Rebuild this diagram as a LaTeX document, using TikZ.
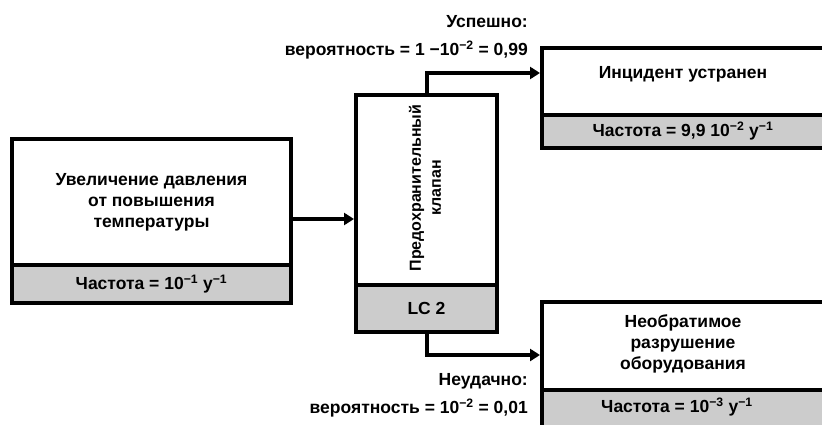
\documentclass[tikz,border=0pt]{standalone}
\usepackage{fontspec}
\setmainfont{Liberation Sans}
\usetikzlibrary{arrows.meta}
\begin{document}
\begin{tikzpicture}[x=1pt,y=-1pt,
  font=\bfseries\fontsize{17.5}{21}\selectfont,
  frame/.style={draw, line width=4.5pt, inner sep=0pt, outer sep=0pt, anchor=north west, align=center},
  band/.style={frame, fill=black!20},
  txt/.style={inner sep=1pt, align=center},
  arr/.style={line width=4pt, shorten >=2pt, -{Triangle[length=10pt,width=12pt]}}]
\useasboundingbox (0,0) rectangle (822,425);
\fill[white] (0,0) rectangle (822,425);
% initiating event
\node[frame, minimum width=279pt, minimum height=126pt] (init) at (12,139) {Увеличение давления\\от повышения\\температуры};
\node[band, minimum width=279pt, minimum height=38pt] (initf) at (12,265) {Частота = 10\textsuperscript{−1} y\textsuperscript{−1}};
% relief valve
\node[frame, minimum width=141pt, minimum height=190pt] (valve) at (356,95) {};
\node[txt, rotate=90, font=\bfseries\fontsize{16}{20}\selectfont] (valvet) at (425,188) {Предохранительный\\клапан};
\node[band, minimum width=141pt, minimum height=47pt] (lc) at (356,285) {LC 2};
% success outcome
\node[frame, minimum width=300pt, minimum height=67pt] (ok) at (542,48) {};
\node[txt] (okt) at (683,74) {Инцидент устранен};
\node[band, minimum width=300pt, minimum height=33pt] (okf) at (542,115) {};
\node[txt] (okft) at (683,131) {Частота = 9,9 10\textsuperscript{−2} y\textsuperscript{−1}};
% failure outcome
\node[frame, minimum width=300pt, minimum height=88pt] (fail) at (542,302) {};
\node[txt] (failt) at (683,344) {Необратимое\\разрушение\\оборудования};
\node[band, minimum width=300pt, minimum height=45pt] (failf) at (542,390) {};
\node[txt] (failft) at (677,407) {Частота = 10\textsuperscript{−3} y\textsuperscript{−1}};
% connectors
\coordinate (y1) at (0,219);
\coordinate (y2) at (0,73);
\coordinate (y3) at (0,355);
\draw[arr] (init.east |- y1) -- (valve.west |- y1);
\draw[arr] (valve.north) |- (ok.west |- y2);
\draw[arr] (lc.south) |- (fail.west |- y3);
% branch labels
\node[anchor=east, inner sep=0pt] (s1) at (528,22) {Успешно:};
\node[anchor=east, inner sep=0pt] (s2) at (528,50) {вероятность = 1 −10\textsuperscript{−2} = 0,99};
\node[anchor=east, inner sep=0pt] (f1) at (528,381) {Неудачно:};
\node[anchor=east, inner sep=0pt] (f2) at (528,408) {вероятность = 10\textsuperscript{−2} = 0,01};
\end{tikzpicture}
\end{document}
